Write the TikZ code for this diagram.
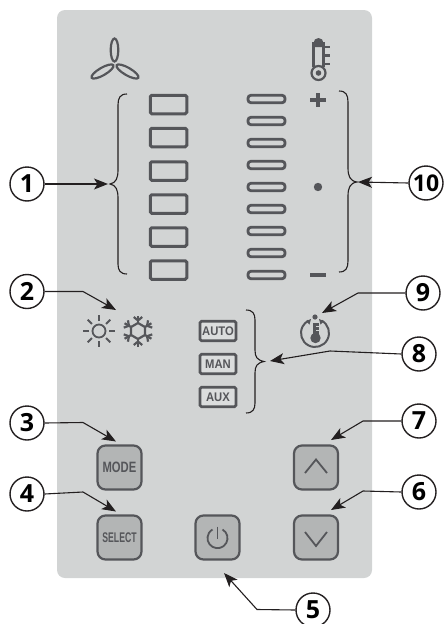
\documentclass[tikz,border=0pt]{standalone}
\usepackage{fontspec}
\setmainfont{Open Sans}
\newfontfamily\keyfont[FakeStretch=0.75]{Liberation Sans}
\newfontfamily\selfont[FakeStretch=0.62]{Liberation Sans}
\newfontfamily\tagfont[FakeStretch=0.9]{Liberation Sans}
\usetikzlibrary{arrows.meta}
\definecolor{panel}{HTML}{D2D4D4}
\definecolor{ink}{HTML}{55565A}
\definecolor{keyfill}{HTML}{B3B5B5}
\definecolor{callout}{HTML}{231F20}
\tikzset{
  x=1pt,y=-1pt,
  numcircle/.style={circle,draw=callout,line width=1.4pt,fill=white,minimum size=34pt,inner sep=0pt,font=\fontsize{25}{25}\selectfont\bfseries,text=black},
  leader/.style={draw=callout,line width=1.1pt,-{Stealth[length=14pt,width=11pt,inset=3.5pt]}},
  bracepath/.style={draw=callout,line width=1.1pt},
  ledbox/.style={draw=ink,line width=3pt,rounded corners=1.5pt,minimum width=36.5pt,minimum height=18.5pt,inner sep=0pt},
  ledbar/.style={draw=ink,line width=2.8pt,rounded corners=3pt,minimum width=37pt,minimum height=7.5pt,inner sep=0pt},
  tagbox/.style={draw=ink,line width=2.6pt,fill=panel!80!white,rounded corners=1.5pt,minimum width=36pt,minimum height=19.5pt,inner sep=0pt,text=ink,font=\tagfont\fontsize{12.5}{12.5}\selectfont\bfseries},
  keybtn/.style={draw=ink,line width=2.2pt,fill=keyfill,rounded corners=8pt,minimum size=44pt,inner sep=0pt,text=ink},
  icon/.style={draw=ink,line width=2.2pt},
  thinicon/.style={draw=ink,line width=1.8pt},
}
\begin{document}
\begin{tikzpicture}
\useasboundingbox (0,0) rectangle (444,624);
\fill[panel,rounded corners=8pt] (57,10) rectangle (372,578);

% fan
\draw[icon] (114.5,50) ellipse[x radius=3.8,y radius=11.5];
\draw[icon,rotate around={30:(102.5,71.5)}] (102.5,71.5) ellipse[x radius=12.5,y radius=3.8];
\draw[icon,rotate around={-30:(127.5,71.5)}] (127.5,71.5) ellipse[x radius=12.5,y radius=3.8];

% thermometer
\fill[ink] (313.5,47) -- (313.5,43) arc[start angle=180,end angle=360,radius=5] -- (323.5,47) -- cycle;
\draw[icon] (313.5,42) -- (313.5,67);
\draw[icon] (323.5,42) -- (323.5,67);
\draw[icon,fill=panel] (318.5,73) circle[radius=7];
\fill[ink] (318.5,73) circle[radius=2.8];
\draw[icon] (324,47) -- (330,47) (324,55.5) -- (330,55.5) (324,64) -- (330,64);

% LED rectangles
\foreach \n/\y in {a/104.5,b/137.5,c/171,d/204,e/237,f/270}
  \node[ledbox] (box\n) at (168.5,\y) {};
\foreach \n/\y in {a/99,b/121,c/143,d/165,e/187,f/209,g/231,h/253,i/275}
  \node[ledbar] (bar\n) at (266.5,\y) {};

% plus dot minus
\fill[ink] (318,100) ++(-8,-2.2) rectangle ++(16,4.4);
\fill[ink] (318,100) ++(-2.4,-7) rectangle ++(4.8,14);
\fill[ink] (318,187) circle[radius=4.2];
\fill[ink] (310,273) rectangle (326,277.4);

% sun
\draw[thinicon] (99,331) circle[radius=6.5];
\foreach \a in {0,45,...,315}
  \draw[thinicon] (99,331) ++(\a:10) -- ++(\a:6);

% snowflake
\begin{scope}[shift={(138,331)}]
  \draw[icon] (30:8) -- (90:8) -- (150:8) -- (210:8) -- (270:8) -- (330:8) -- cycle;
  \foreach \a in {30,90,150,210,270,330}{
    \draw[icon] (\a:8) -- (\a:15.5);
    \draw[icon] (\a:10.5) ++(\a+50:5.5) -- (\a:10.5) -- ++(\a-50:5.5);
  }
\end{scope}

% info icon
\draw[thinicon,line width=2pt] (315,333) ++(-62:14) arc[start angle=-62,end angle=242,radius=14];
\fill[ink] (315,317) circle[radius=2.6];
\fill[ink] (312.5,323) rectangle (318.5,334);
\fill[ink] (315.5,338) circle[radius=5.2];
\draw[draw=panel,line width=0.9pt] (316,326.5) -- (319,326.5) (316,330) -- (319,330);
\fill[ink] (306,321) -- (311,319) -- (309.5,324.5) -- cycle;
\fill[ink] (324,321) -- (319,319) -- (320.5,324.5) -- cycle;

% tag buttons
\node[tagbox] (auto) at (218,331) {AUTO};
\node[tagbox] (man) at (218,364) {MAN};
\node[tagbox] (aux) at (218,397) {AUX};

% keys
\node[keybtn,font=\keyfont\fontsize{15}{15}\selectfont\bfseries] (mode) at (119.5,467.5) {MODE};
\node[keybtn,font=\selfont\fontsize{14}{14}\selectfont\bfseries] (select) at (119.5,537.5) {SELECT};
\node[keybtn] (power) at (217.5,537.5) {};
\node[keybtn] (up) at (316,467.5) {};
\node[keybtn] (down) at (316,537.5) {};
\draw[thinicon] (305,473) -- (316,459.5) -- (327,473);
\draw[thinicon] (305,532) -- (316,546) -- (327,532);
\draw[thinicon] (217.5,526.5) -- (217.5,539);
\draw[thinicon] (222.5,529.5) arc[start angle=-60,end angle=240,radius=10];

% braces
\draw[bracepath] (127,94) .. controls (120,94) and (118,98) .. (118,105) -- (118,170) .. controls (118,178) and (116,183) .. (110,184) .. controls (116,185) and (118,190) .. (118,198) -- (118,264) .. controls (118,270) and (120,274) .. (127,274);
\draw[bracepath] (339,91) .. controls (346,91) and (348,95) .. (348,102) -- (348,168) .. controls (348,176) and (350,181) .. (357,182) .. controls (350,183) and (348,188) .. (348,196) -- (348,261) .. controls (348,268) and (346,272) .. (339,272);
\draw[bracepath] (246,310) .. controls (253,310) and (255,314) .. (255,320) -- (255,350) .. controls (255,357) and (257,360) .. (264,361.5) .. controls (257,363) and (255,366) .. (255,373) -- (255,403) .. controls (255,409) and (253,413) .. (246,413);

% callouts
\node[numcircle] (n1) at (27,184) {1};
\node[numcircle] (n2) at (27,291.5) {2};
\node[numcircle] (n3) at (27,423) {3};
\node[numcircle] (n4) at (27,494) {4};
\node[numcircle] (n5) at (313,610) {5};
\node[numcircle] (n6) at (419,492) {6};
\node[numcircle] (n7) at (419,421) {7};
\node[numcircle] (n8) at (419,354) {8};
\node[numcircle] (n9) at (423,293) {9};
\node[numcircle,font=\fontsize{23}{23}\selectfont\bfseries] (n10) at (426,183) {10};

\coordinate (t1) at (108,184);
\coordinate (t2) at (116,310);
\coordinate (t3) at (116,441.5);
\coordinate (t4) at (116,511.5);
\coordinate (t5) at (224,573);
\coordinate (t6) at (331,510);
\coordinate (t7) at (331,440);
\coordinate (t8) at (270,361);
\coordinate (t9) at (322,313);
\coordinate (t10) at (358,182);

\draw[leader] (n1.east) -- (t1);
\draw[leader] (n2.east) -- (83,291.5) -- (t2);
\draw[leader] (n3.east) -- (83,422.5) -- (t3);
\draw[leader] (n4.east) -- (83,492) -- (t4);
\draw[leader] (n5.west) -- (257,609.5) -- (t5);
\draw[leader] (n6.west) -- (363,491) -- (t6);
\draw[leader] (n7.west) -- (363,421) -- (t7);
\draw[leader] (n8.west) -- (330,351) -- (t8);
\draw[leader] (n9.west) -- (358,293) -- (t9);
\draw[leader] (n10.west) -- (t10);
\end{tikzpicture}
\end{document}
